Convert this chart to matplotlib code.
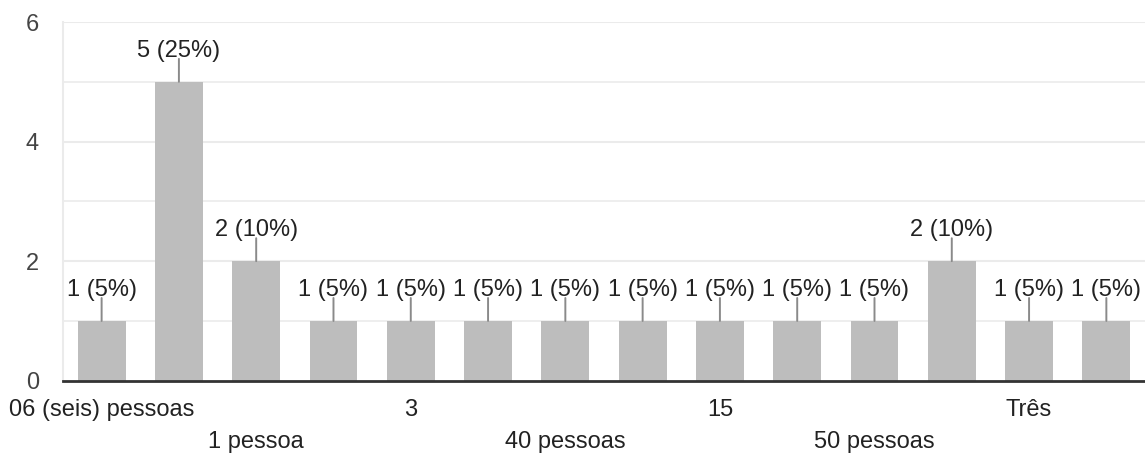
import matplotlib.pyplot as plt
import numpy as np

plt.rcParams['font.family'] = ['Liberation Sans', 'DejaVu Sans']

# categorias (só as visíveis no gráfico; as outras ficam em branco)
categorias = ["06 (seis) pessoas", "", "1 pessoa", "", "3", "", "40 pessoas", "",
              "15", "", "50 pessoas", "", "Três", ""]
contagens = [1, 5, 2, 1, 1, 1, 1, 1, 1, 1, 1, 2, 1, 1]
total = sum(contagens)
yticks = [0, 2, 4, 6]

fig = plt.figure(figsize=(11.45, 4.53), dpi=100)
ax = fig.add_axes([0.055, 0.1596, 0.945, 0.7918])

x = np.arange(len(contagens))
ax.bar(x, contagens, width=0.62, color="#bdbdbd", zorder=2)

# rótulos de valor com traço vertical
for xi, v in zip(x, contagens):
    ax.annotate("", xy=(xi, v), xytext=(0, 16.5), textcoords="offset points",
                arrowprops=dict(arrowstyle="-", color="#8a8a8a", lw=1.4,
                                shrinkA=0, shrinkB=0))
    ax.annotate(f"{v} ({v / total * 100:.0f}%)", xy=(xi, v), xytext=(0, 14.5),
                textcoords="offset points", ha="center", va="bottom",
                fontsize=17, color="#222222")

ax.set_xlim(-0.5, len(contagens) - 0.5)
ax.set_ylim(0, 6)
ax.set_yticks(yticks)
ax.set_yticklabels([str(t) for t in yticks], fontsize=17, color="#444444")
for g in range(1, 7):
    ax.axhline(g, color="#ebebeb", lw=1.5 if g % 2 == 0 else 1.2, zorder=0)

# rótulos do eixo x em duas linhas alternadas
ax.set_xticks(x)
rotulos = [c if i % 4 == 0 else ("\n" + c if c else "") for i, c in enumerate(categorias)]
ax.set_xticklabels(rotulos, fontsize=17, color="#222222", linespacing=1.58)
ax.tick_params(axis="both", length=0)
ax.tick_params(axis="x", pad=13)
ax.tick_params(axis="y", pad=22)
for lbl in ax.get_yticklabels():
    lbl.set_horizontalalignment("center")

for s in ["top", "right"]:
    ax.spines[s].set_visible(False)
ax.spines["left"].set_color("#ebebeb")
ax.spines["left"].set_linewidth(1.5)
ax.spines["bottom"].set_color("#333333")
ax.spines["bottom"].set_linewidth(2)
ax.spines["bottom"].set_zorder(3)

fig.savefig("out.png", dpi=100)
